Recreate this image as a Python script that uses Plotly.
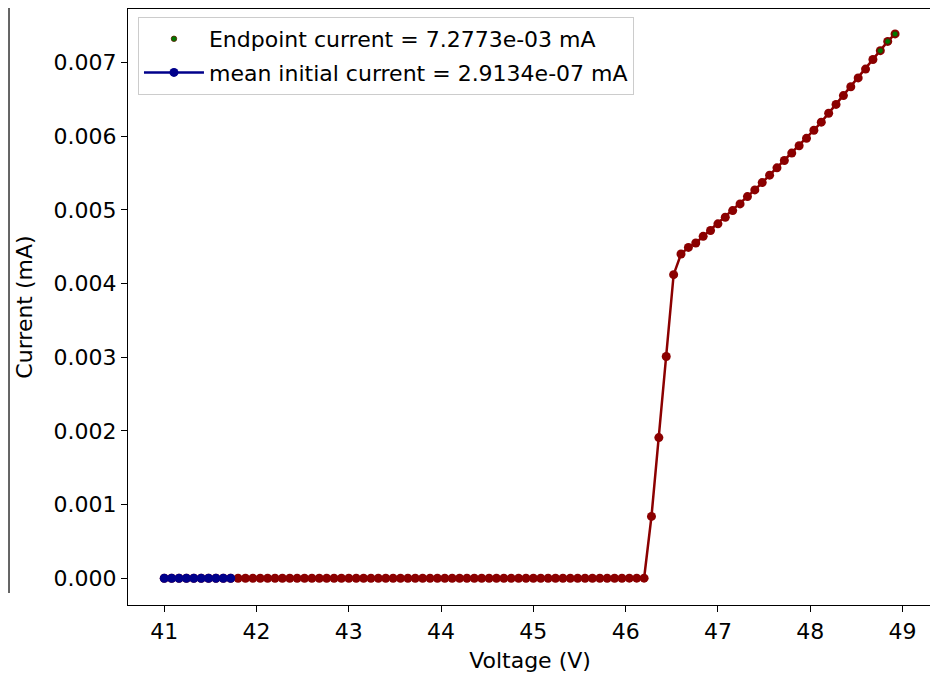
import plotly.graph_objects as go

# ---- data ----
voltage_step = 0.08
n_points = 100
voltage = [round(41 + voltage_step * i, 2) for i in range(n_points)]

# initial (baseline) currents, first 10 points (mA)
initial_current = [2.88e-7, 2.95e-7, 2.90e-7, 2.93e-7, 2.87e-7,
                   2.96e-7, 2.91e-7, 2.89e-7, 2.94e-7, 2.9040e-7]

# flat part after the initial points (indices 10..65)
flat_current = [3.0e-7, 3.1e-7, 2.9e-7, 3.2e-7, 3.0e-7, 3.1e-7, 3.3e-7, 3.0e-7,
                3.2e-7, 3.1e-7, 3.4e-7, 3.2e-7, 3.3e-7, 3.5e-7, 3.4e-7, 3.6e-7,
                3.5e-7, 3.7e-7, 3.6e-7, 3.8e-7, 3.9e-7, 3.8e-7, 4.0e-7, 4.1e-7,
                4.0e-7, 4.2e-7, 4.3e-7, 4.4e-7, 4.5e-7, 4.6e-7, 4.8e-7, 4.9e-7,
                5.0e-7, 5.2e-7, 5.4e-7, 5.6e-7, 5.8e-7, 6.0e-7, 6.3e-7, 6.6e-7,
                6.9e-7, 7.2e-7, 7.6e-7, 8.0e-7, 8.5e-7, 9.0e-7, 9.6e-7, 1.03e-6,
                1.1e-6, 1.2e-6, 1.3e-6, 1.45e-6, 1.6e-6, 1.8e-6, 2.1e-6, 2.6e-6]

# breakdown and rising part (indices 66..99)
rise_current = [0.00084, 0.00191, 0.00301, 0.00412, 0.00440, 0.00449, 0.00455,
                0.00464, 0.00472, 0.00481, 0.00490, 0.00499, 0.00508, 0.00518,
                0.00527, 0.00537, 0.00547, 0.00557, 0.00567, 0.00577, 0.00587,
                0.00597, 0.00608, 0.00619, 0.00631, 0.00643, 0.00655, 0.00667,
                0.00679, 0.00691, 0.00704, 0.00716, 0.007285, 0.007387]

current = initial_current + flat_current + rise_current

n_initial = len(initial_current)
n_end = 3
endpoint_mean = sum(current[-n_end:]) / n_end
initial_mean = sum(initial_current) / n_initial

x_ticks = [41, 42, 43, 44, 45, 46, 47, 48, 49]
y_ticks = [0.000, 0.001, 0.002, 0.003, 0.004, 0.005, 0.006, 0.007]

# ---- figure ----
RED = "#8b0000"
BLUE = "#00008b"
GREEN = "#007800"
FONT = "DejaVu Sans"
FS = 22

fig = go.Figure()

fig.add_trace(go.Scatter(
    x=voltage, y=current, mode="lines+markers",
    line=dict(color=RED, width=2.5),
    marker=dict(color=RED, size=9),
    showlegend=False, hoverinfo="skip"))

fig.add_trace(go.Scatter(
    x=voltage[:n_initial], y=initial_current, mode="lines+markers",
    line=dict(color=BLUE, width=2.5),
    marker=dict(color=BLUE, size=9),
    name=f"mean initial current = {initial_mean:.4e} mA",
    legendrank=2, legendgroup="b"))

fig.add_trace(go.Scatter(
    x=voltage[-n_end:], y=current[-n_end:], mode="markers",
    marker=dict(color=GREEN, size=5.5, line=dict(color="#5a1a00", width=0.8)),
    name=f"Endpoint current = {endpoint_mean:.4e} mA",
    legendrank=1, legendgroup="a"))

axis_common = dict(
    showline=True, mirror=True, linecolor="black", linewidth=1.4,
    ticks="outside", ticklen=6, tickwidth=1.4, tickcolor="black",
    showgrid=False, zeroline=False,
    tickfont=dict(family=FONT, size=FS, color="black"),
)

fig.update_xaxes(
    range=[40.607, 49.32], tickvals=x_ticks,
    title=dict(text="Voltage (V)", font=dict(family=FONT, size=FS, color="black"), standoff=10),
    **axis_common)
fig.update_yaxes(
    range=[-0.000362, 0.007725], tickvals=y_ticks, tickformat=".3f",
    title=dict(text="Current (mA)", font=dict(family=FONT, size=FS, color="black"), standoff=14),
    **axis_common)

# page body has an 8px margin, so figure coordinates are offset by 8px
fig.update_layout(
    width=930, height=666, autosize=False,
    margin=dict(l=120, r=6, t=1, b=69),
    plot_bgcolor="white", paper_bgcolor="white",
    font=dict(family=FONT, size=FS, color="black"),
    legend=dict(
        x=0.0124, y=0.9866, xanchor="left", yanchor="top",
        bgcolor="white", bordercolor="#cccccc", borderwidth=1,
        font=dict(family=FONT, size=FS, color="black"),
        itemwidth=60,
        traceorder="grouped", tracegroupgap=2),
    shapes=[
        dict(type="line", xref="paper", yref="paper",
             x0=-0.1480, x1=-0.1480, y0=0.0201, y1=1.0017,
             line=dict(color="#333333", width=1.5)),
    ],
)

fig.write_html("out.html")
